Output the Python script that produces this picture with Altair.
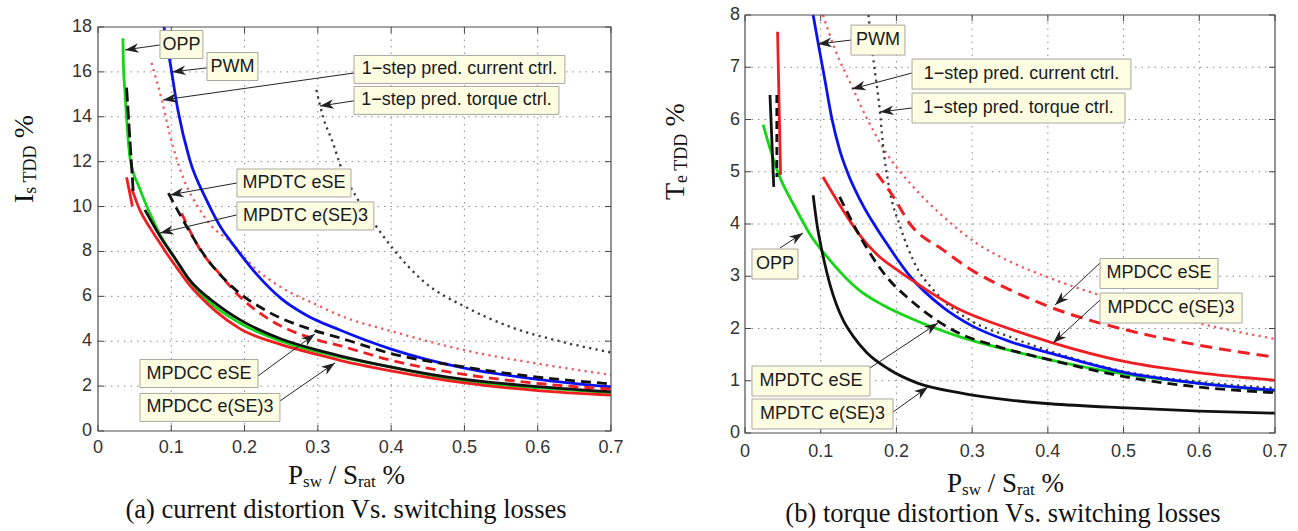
import math
import altair as alt
import pandas as pd

# ======================= Panel (a): current distortion =======================
A_X_TICKS = [0, 0.1, 0.2, 0.3, 0.4, 0.5, 0.6, 0.7]
A_X_LABELS = ["0", "0.1", "0.2", "0.3", "0.4", "0.5", "0.6", "0.7"]
A_Y_TICKS = [0, 2, 4, 6, 8, 10, 12, 14, 16, 18]

A_OPP_X = [0.034, 0.0345, 0.037, 0.044, 0.057, 0.075, 0.089, 0.103, 0.125, 0.15, 0.194, 0.25, 0.33, 0.4, 0.5, 0.6, 0.7]
A_OPP_Y = [17.5, 16.5, 15.0, 12.1, 10.8, 9.4, 8.5, 7.8, 6.7, 5.8, 4.8, 4.0, 3.3, 2.85, 2.22, 1.93, 1.7]

A_PWM_X = [0.09, 0.098, 0.109, 0.125, 0.148, 0.171, 0.18, 0.216, 0.25, 0.285, 0.33, 0.4, 0.5, 0.6, 0.7]
A_PWM_Y = [18.0, 16.5, 14.3, 12.1, 10.3, 8.9, 8.5, 7.0, 5.9, 5.15, 4.5, 3.65, 2.8, 2.3, 1.96]

A_CUR_X = [0.073, 0.087, 0.098, 0.116, 0.139, 0.153, 0.18, 0.216, 0.25, 0.3, 0.33, 0.4, 0.5, 0.6, 0.7]
A_CUR_Y = [16.4, 14.75, 13.2, 11.3, 9.85, 9.2, 8.45, 7.2, 6.4, 5.6, 5.15, 4.45, 3.6, 3.0, 2.5]

A_TRQ_X = [0.298, 0.307, 0.321, 0.33, 0.353, 0.38, 0.403, 0.443, 0.503, 0.566, 0.63, 0.7]
A_TRQ_Y = [15.2, 14.0, 12.8, 11.9, 10.4, 9.1, 8.1, 6.7, 5.5, 4.6, 4.0, 3.5]

A_DTC_ESE_SEG_X = [0.039, 0.048]
A_DTC_ESE_SEG_Y = [15.3, 10.7]
A_DTC_ESE_X = [0.096, 0.116, 0.148, 0.184, 0.23, 0.293, 0.33, 0.4, 0.5, 0.6, 0.7]
A_DTC_ESE_Y = [10.6, 9.4, 7.7, 6.4, 5.35, 4.5, 4.15, 3.45, 2.85, 2.4, 2.1]

A_DCC_ESE_X = [0.114, 0.139, 0.166, 0.193, 0.23, 0.3, 0.33, 0.4, 0.5, 0.6, 0.7]
A_DCC_ESE_Y = [9.7, 8.1, 7.0, 6.0, 5.05, 4.05, 3.8, 3.15, 2.52, 2.12, 1.87]

A_DTC_E3_X = [0.064, 0.085, 0.107, 0.125, 0.16, 0.194, 0.25, 0.3, 0.33, 0.4, 0.5, 0.6, 0.7]
A_DTC_E3_Y = [9.85, 8.66, 7.6, 6.73, 5.7, 4.95, 4.1, 3.6, 3.35, 2.85, 2.3, 1.98, 1.75]

A_DCC_E3_SEG_X = [0.039, 0.047]
A_DCC_E3_SEG_Y = [11.3, 10.0]
A_DCC_E3_X = [0.046, 0.057, 0.071, 0.08, 0.094, 0.107, 0.125, 0.139, 0.16, 0.194, 0.25, 0.3, 0.33, 0.4, 0.5, 0.6, 0.7]
A_DCC_E3_Y = [10.8, 9.85, 9.05, 8.6, 7.9, 7.3, 6.5, 6.0, 5.35, 4.55, 3.85, 3.4, 3.15, 2.68, 2.14, 1.8, 1.6]

A_ANN_LABEL = ["OPP", "PWM", "1\u2212step pred. current ctrl.", "1\u2212step pred. torque ctrl.",
               "MPDTC eSE", "MPDTC e(SE)3", "MPDCC eSE", "MPDCC e(SE)3"]
A_ANN_X1 = [0.0846, 0.1487, 0.3493, 0.3493, 0.1896, 0.1896, 0.0573, 0.0573]
A_ANN_X2 = [0.1432, 0.2183, 0.6371, 0.6289, 0.3452, 0.3765, 0.2183, 0.2483]
A_ANN_YC = [17.22, 16.24, 16.11, 14.73, 11.05, 9.58, 2.56, 1.05]
A_ARR_X0 = [0.0846, 0.1487, 0.3493, 0.3493, 0.1896, 0.1896, 0.2183, 0.2483]
A_ARR_Y0 = [17.20, 16.18, 15.95, 14.71, 11.05, 9.63, 2.45, 1.34]
A_ARR_X1 = [0.0368, 0.101, 0.0887, 0.3029, 0.0982, 0.0846, 0.296, 0.3233]
A_ARR_Y1 = [16.98, 16.0, 14.75, 14.48, 10.52, 8.82, 4.32, 3.03]

# ======================= Panel (b): torque distortion =======================
B_X_TICKS = [0, 0.1, 0.2, 0.3, 0.4, 0.5, 0.6, 0.7]
B_X_LABELS = ["0", "0.1", "0.2", "0.3", "0.4", "0.5", "0.6", "0.7"]
B_Y_TICKS = [0, 1, 2, 3, 4, 5, 6, 7, 8]

B_OPP_X = [0.024, 0.034, 0.044, 0.068, 0.086, 0.112, 0.152, 0.182, 0.218, 0.284, 0.35, 0.403, 0.504, 0.6, 0.7]
B_OPP_Y = [5.9, 5.4, 4.97, 4.27, 3.8, 3.31, 2.72, 2.45, 2.2, 1.84, 1.58, 1.40, 1.12, 0.95, 0.8]

B_PWM_X = [0.09, 0.097, 0.105, 0.115, 0.125, 0.135, 0.152, 0.187, 0.218, 0.262, 0.3, 0.35, 0.403, 0.504, 0.6, 0.7]
B_PWM_Y = [8.0, 7.43, 6.8, 6.0, 5.42, 5.0, 4.46, 3.63, 3.0, 2.4, 2.05, 1.75, 1.53, 1.15, 0.95, 0.82]

B_CUR_X = [0.103, 0.12, 0.139, 0.16, 0.187, 0.218, 0.262, 0.306, 0.35, 0.4, 0.5, 0.6, 0.7]
B_CUR_Y = [8.0, 7.3, 6.7, 6.05, 5.35, 4.78, 4.14, 3.63, 3.28, 2.98, 2.5, 2.1, 1.8]

B_TRQ_X = [0.163, 0.17, 0.178, 0.182, 0.191, 0.205, 0.222, 0.253, 0.297, 0.35, 0.4, 0.5, 0.6, 0.7]
B_TRQ_Y = [8.0, 7.1, 6.18, 5.55, 4.65, 3.95, 3.31, 2.67, 2.16, 1.84, 1.58, 1.18, 0.98, 0.86]

B_DTC_ESE_SEG_X = [0.042, 0.0421]
B_DTC_ESE_SEG_Y = [6.47, 4.9]
B_DTC_ESE_X = [0.125, 0.152, 0.187, 0.218, 0.253, 0.284, 0.328, 0.403, 0.504, 0.6, 0.7]
B_DTC_ESE_Y = [4.52, 3.76, 2.99, 2.55, 2.16, 1.9, 1.68, 1.4, 1.07, 0.88, 0.77]

B_DCC_ESE_X = [0.174, 0.196, 0.218, 0.262, 0.306, 0.35, 0.403, 0.504, 0.6, 0.7]
B_DCC_ESE_Y = [4.97, 4.52, 4.0, 3.5, 3.06, 2.74, 2.41, 1.97, 1.68, 1.45]

B_DTC_E3_SEG_X = [0.033, 0.038]
B_DTC_E3_SEG_Y = [6.47, 4.71]
B_DTC_E3_X = [0.09, 0.095, 0.1, 0.106, 0.113, 0.121, 0.13, 0.143, 0.16, 0.19, 0.227, 0.284, 0.35, 0.403, 0.504, 0.6, 0.7]
B_DTC_E3_Y = [4.55, 4.0, 3.6, 3.2, 2.8, 2.45, 2.15, 1.85, 1.55, 1.22, 0.96, 0.77, 0.63, 0.56, 0.48, 0.42, 0.38]

B_DCC_E3_SEG_X = [0.043, 0.047]
B_DCC_E3_SEG_Y = [7.68, 4.94]
B_DCC_E3_X = [0.103, 0.13, 0.139, 0.152, 0.174, 0.205, 0.218, 0.284, 0.31, 0.35, 0.403, 0.504, 0.6, 0.7]
B_DCC_E3_Y = [4.9, 4.25, 4.05, 3.78, 3.42, 3.08, 2.95, 2.36, 2.2, 1.99, 1.74, 1.36, 1.15, 1.01]

B_ANN_LABEL = ["PWM", "1\u2212step pred. current ctrl.", "1\u2212step pred. torque ctrl.", "OPP",
               "MPDTC eSE", "MPDTC e(SE)3", "MPDCC eSE", "MPDCC e(SE)3"]
B_ANN_X1 = [0.14, 0.2206, 0.2206, 0.0092, 0.0092, 0.0092, 0.4689, 0.4689]
B_ANN_X2 = [0.2113, 0.5098, 0.5019, 0.07, 0.1651, 0.1955, 0.6247, 0.6565]
B_ANN_YC = [7.52, 6.87, 6.22, 3.234, 0.995, 0.364, 3.053, 2.392]
B_ARR_X0 = [0.14, 0.2206, 0.2206, 0.0462, 0.1611, 0.1955, 0.4689, 0.4689]
B_ARR_Y0 = [7.52, 6.89, 6.22, 3.54, 1.206, 0.402, 3.254, 2.545]
B_ARR_X1 = [0.0964, 0.1413, 0.1783, 0.0766, 0.2549, 0.2417, 0.4095, 0.4068]
B_ARR_Y1 = [7.445, 6.584, 6.144, 3.828, 2.105, 0.880, 2.45, 1.722]

A_CAPTION = "(a) current distortion Vs. switching losses"
B_CAPTION = "(b) torque distortion Vs. switching losses"

# ======================= styling =======================
GREEN = "#16d416"
BLUE = "#0b12f2"
RED = "#ee1f23"
BLACK = "#111111"
RED_DOT = "#f0585b"
BLACK_DOT = "#3a3a3a"
DASH = [10, 6]
DOT = [2.2, 4.3]

SANS = "Liberation Sans"
SERIF = "Liberation Serif"
ONE = pd.DataFrame({"k": [0]})

TIMES = {'P': 556, 's': 389, 'w': 722, ' ': 250, '/': 278, 'S': 556, 'r': 333, 'a': 444,
         't': 278, '%': 833, 'I': 333, 'T': 611, 'D': 722, 'e': 444}


def tw(s, size):
    return sum(TIMES.get(c, 500) for c in s) * size / 1000.0


def title_pieces(pieces, x0, y0, vertical):
    out = []
    pos = 0.0
    for text, size, shift in pieces:
        if text.strip():
            if vertical:
                enc = dict(x=alt.value(x0 + shift), y=alt.value(y0 - pos))
                ang = 270
            else:
                enc = dict(x=alt.value(x0 + pos), y=alt.value(y0 + shift))
                ang = 0
            out.append(alt.Chart(ONE).mark_text(text=text, font=SERIF, fontSize=size, angle=ang,
                                                 align="left", baseline="alphabetic",
                                                 color="#111111").encode(**enc))
        pos += tw(text, size)
    return out


def panel(series, ann, xdom, ydom, xticks, xlabels, yticks, frame, xlab_y, ylab_x, box_px,
          xtitle_pos, ytitle_pieces, ytitle_pos, caption, caption_pos):
    left_px, right_px, top_px, bottom_px = frame
    W = right_px - left_px
    H = bottom_px - top_px
    X = alt.X("x:Q", scale=alt.Scale(domain=xdom, range=[left_px, right_px], nice=False, zero=False),
              axis=None)
    Y = alt.Y("y:Q", scale=alt.Scale(domain=ydom, range=[bottom_px, top_px], nice=False, zero=False),
              axis=None)
    layers = []

    # dotted grid
    gx = pd.DataFrame({"x": xticks[1:-1], "y": [ydom[0]] * (len(xticks) - 2),
                       "y2": [ydom[1]] * (len(xticks) - 2)})
    gy = pd.DataFrame({"y": yticks[1:-1], "x": [xdom[0]] * (len(yticks) - 2),
                       "x2": [xdom[1]] * (len(yticks) - 2)})
    gkw = dict(color="#8a8a8a", strokeWidth=1, strokeDash=[1.5, 5])
    layers.append(alt.Chart(gx).mark_rule(**gkw).encode(x=X, y=Y, y2=alt.Y2("y2:Q")))
    layers.append(alt.Chart(gy).mark_rule(**gkw).encode(y=Y, x=X, x2=alt.X2("x2:Q")))

    # inward ticks on all four sides
    xt = pd.DataFrame({"x": xticks, "t": xlabels})
    yt = pd.DataFrame({"y": yticks, "t": [str(v) for v in yticks]})
    tkw = dict(color="#444444", strokeWidth=1)
    layers.append(alt.Chart(xt).mark_rule(**tkw).encode(x=X, y=alt.value(bottom_px - 6), y2=alt.value(bottom_px)))
    layers.append(alt.Chart(xt).mark_rule(**tkw).encode(x=X, y=alt.value(top_px), y2=alt.value(top_px + 6)))
    layers.append(alt.Chart(yt).mark_rule(**tkw).encode(y=Y, x=alt.value(left_px), x2=alt.value(left_px + 6)))
    layers.append(alt.Chart(yt).mark_rule(**tkw).encode(y=Y, x=alt.value(right_px - 6), x2=alt.value(right_px)))

    # tick labels
    lkw = dict(font=SANS, fontSize=18, color="#333333")
    layers.append(alt.Chart(xt).mark_text(align="center", baseline="middle", **lkw).encode(
        x=X, y=alt.value(xlab_y), text="t:N"))
    layers.append(alt.Chart(yt).mark_text(align="right", baseline="middle", **lkw).encode(
        y=Y, x=alt.value(ylab_x), text="t:N"))

    for xs, ys, color, dash, width in series:
        df = pd.DataFrame({"x": xs, "y": ys, "i": list(range(len(xs)))})
        kw = dict(color=color, strokeWidth=width, strokeCap="butt", interpolate="monotone")
        if dash:
            kw["strokeDash"] = dash
        layers.append(alt.Chart(df).mark_line(**kw).encode(x=X, y=Y, order="i:Q"))

    # frame (box)
    fr = pd.DataFrame({"x": [xdom[0]], "x2": [xdom[1]], "y": [ydom[0]], "y2": [ydom[1]]})
    layers.append(alt.Chart(fr).mark_rect(fillOpacity=0, stroke="#4d4d4d", strokeWidth=1.2).encode(
        x=X, x2=alt.X2("x2:Q"), y=Y, y2=alt.Y2("y2:Q")))

    labels, x1s, x2s, ycs, ax0, ay0, ax1, ay1 = ann
    sx = W / (xdom[1] - xdom[0])
    sy = H / (ydom[1] - ydom[0])
    box_half = box_px / 2.0 / sy
    angs = [math.degrees(math.atan2((b - a) * sx, (d - c) * sy)) % 360
            for a, b, c, d in zip(ax0, ax1, ay0, ay1)]
    arr = pd.DataFrame({"x": ax0, "y": ay0, "x2": ax1, "y2": ay1})
    layers.append(alt.Chart(arr).mark_rule(color="#222222", strokeWidth=1).encode(
        x=X, y=Y, x2=alt.X2("x2:Q"), y2=alt.Y2("y2:Q")))
    heads = pd.DataFrame({"x": ax1, "y": ay1, "ang": angs})
    layers.append(alt.Chart(heads).mark_point(
        shape="M0,0L0.6,1.7L0,1.2L-0.6,1.7Z", filled=True, size=260, color="#222222",
        opacity=1, strokeWidth=0).encode(x=X, y=Y, angle=alt.Angle("ang:Q", scale=None)))
    boxes = pd.DataFrame({"x": x1s, "x2": x2s,
                          "y": [v - box_half for v in ycs], "y2": [v + box_half for v in ycs]})
    layers.append(alt.Chart(boxes).mark_rect(fill="#fdfde2", stroke="#a8a8a0", strokeWidth=1).encode(
        x=X, x2=alt.X2("x2:Q"), y=Y, y2=alt.Y2("y2:Q")))
    tdf = pd.DataFrame({"x": [(a + b) / 2 for a, b in zip(x1s, x2s)], "y": ycs, "t": labels})
    layers.append(alt.Chart(tdf).mark_text(font=SANS, fontSize=18, color="#1a1a1a",
                                           align="center", baseline="middle").encode(
        x=X, y=Y, text="t:N"))

    # axis titles and caption
    xpieces = [("P", 27, 0), ("sw", 17, 3), (" ", 27, 0), ("/", 27, 0), (" ", 27, 0),
               ("S", 27, 0), ("rat", 17, 3), (" ", 27, 0), ("%", 27, 0)]
    layers += title_pieces(xpieces, xtitle_pos[0], xtitle_pos[1], False)
    layers += title_pieces(ytitle_pieces, ytitle_pos[0], ytitle_pos[1], True)
    layers.append(alt.Chart(ONE).mark_text(text=caption, font=SERIF, fontSize=26.5, align="center",
                                           baseline="alphabetic", color="#111111").encode(
        x=alt.value(caption_pos[0]), y=alt.value(caption_pos[1])))

    return alt.layer(*layers)


series_a = [
    (A_CUR_X, A_CUR_Y, RED_DOT, DOT, 2.3),
    (A_TRQ_X, A_TRQ_Y, BLACK_DOT, DOT, 2.3),
    (A_PWM_X, A_PWM_Y, BLUE, None, 2.8),
    (A_OPP_X, A_OPP_Y, GREEN, None, 2.8),
    (A_DCC_E3_SEG_X, A_DCC_E3_SEG_Y, RED, None, 2.8),
    (A_DCC_E3_X, A_DCC_E3_Y, RED, None, 2.8),
    (A_DTC_E3_X, A_DTC_E3_Y, BLACK, None, 2.8),
    (A_DCC_ESE_X, A_DCC_ESE_Y, RED, DASH, 2.8),
    (A_DTC_ESE_SEG_X, A_DTC_ESE_SEG_Y, BLACK, [14, 4], 2.8),
    (A_DTC_ESE_X, A_DTC_ESE_Y, BLACK, DASH, 2.8),
]
series_b = [
    (B_CUR_X, B_CUR_Y, RED_DOT, DOT, 2.3),
    (B_TRQ_X, B_TRQ_Y, BLACK_DOT, DOT, 2.3),
    (B_OPP_X, B_OPP_Y, GREEN, None, 2.8),
    (B_PWM_X, B_PWM_Y, BLUE, None, 2.8),
    (B_DCC_E3_SEG_X, B_DCC_E3_SEG_Y, RED, None, 2.8),
    (B_DCC_E3_X, B_DCC_E3_Y, RED, None, 2.8),
    (B_DCC_ESE_X, B_DCC_ESE_Y, RED, [12, 7], 3.0),
    (B_DTC_E3_SEG_X, B_DTC_E3_SEG_Y, BLACK, None, 2.8),
    (B_DTC_E3_X, B_DTC_E3_Y, BLACK, None, 2.8),
    (B_DTC_ESE_SEG_X, B_DTC_ESE_SEG_Y, BLACK, [8, 5], 2.8),
    (B_DTC_ESE_X, B_DTC_ESE_Y, BLACK, DASH, 2.8),
]

ann_a = (A_ANN_LABEL, A_ANN_X1, A_ANN_X2, A_ANN_YC, A_ARR_X0, A_ARR_Y0, A_ARR_X1, A_ARR_Y1)
ann_b = (B_ANN_LABEL, B_ANN_X1, B_ANN_X2, B_ANN_YC, B_ARR_X0, B_ARR_Y0, B_ARR_X1, B_ARR_Y1)

left = panel(series_a, ann_a, [0, 0.7], [0, 18], A_X_TICKS, A_X_LABELS, A_Y_TICKS,
             (98, 611, 27, 431), 448, 92, 28,
             (288, 484), [("I", 28, 0), ("s TDD", 18, 3), (" ", 28, 0), ("%", 28, 0)], (33, 203),
             A_CAPTION, (346, 518))
right = panel(series_b, ann_b, [0, 0.7], [0, 8], B_X_TICKS, B_X_LABELS, B_Y_TICKS,
              (745, 1275, 15, 433), 452, 740, 30,
              (947, 492), [("T", 28, 0), ("e TDD", 18, 3), (" ", 28, 0), ("%", 28, 0)], (684, 200),
              B_CAPTION, (1003, 522))

chart = alt.layer(left, right).resolve_scale(x="independent", y="independent").properties(
    width=1298, height=531, autosize=alt.AutoSizeParams(type="none"), padding=0,
    background="white").configure_view(strokeWidth=0)

chart.save("out.html", embed_options={"renderer": "svg", "actions": False})
